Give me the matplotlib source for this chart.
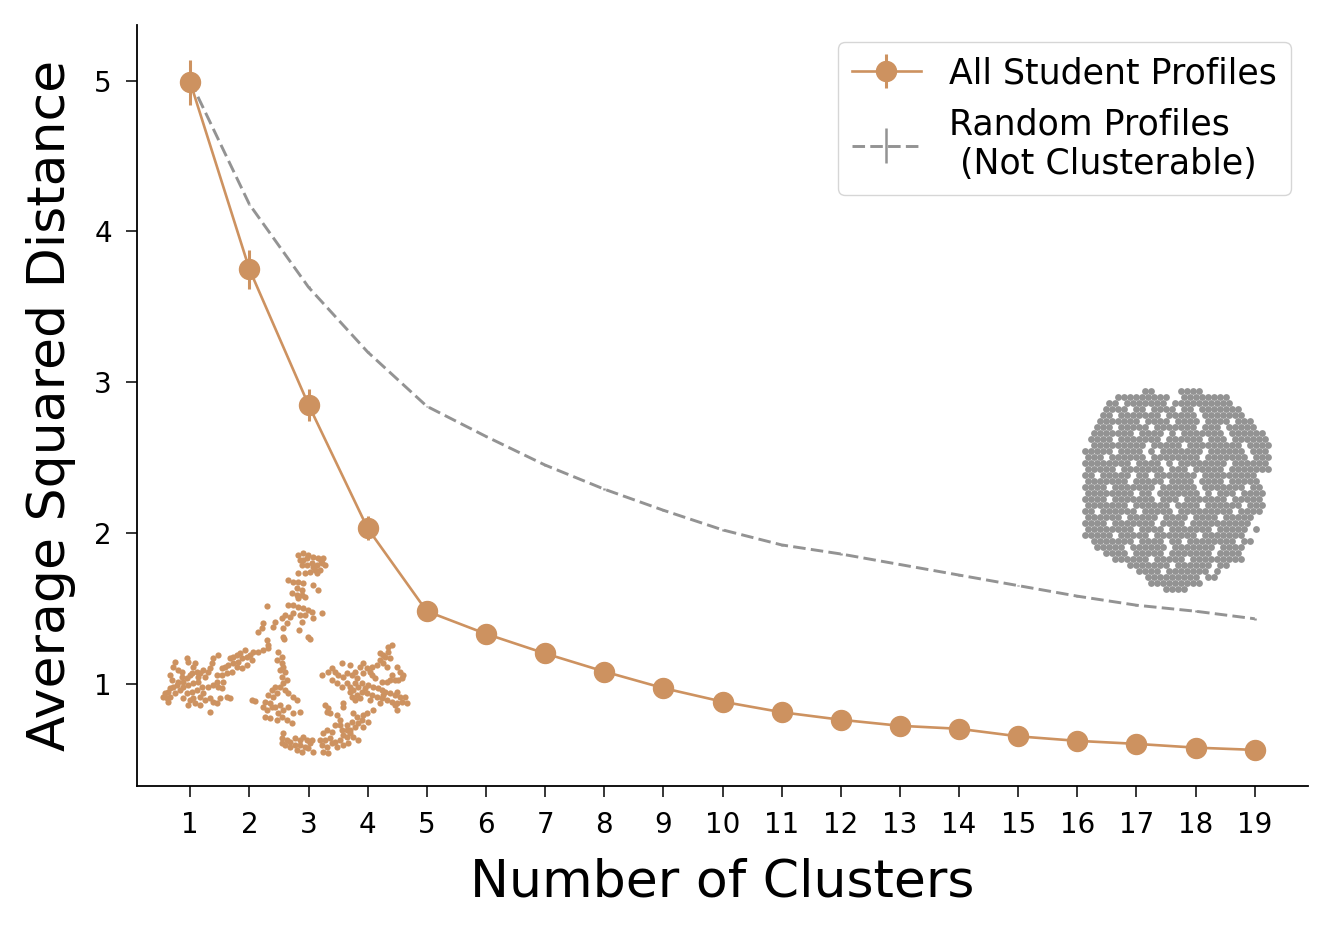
import numpy as np
import matplotlib
matplotlib.use("Agg")
import matplotlib.pyplot as plt

# ---------------- data ----------------
clusters = list(range(1, 20))
student_mean = [4.99, 3.75, 2.85, 2.03, 1.48, 1.33, 1.20, 1.08, 0.97, 0.88,
                0.81, 0.76, 0.72, 0.70, 0.65, 0.62, 0.60, 0.575, 0.56]
student_err = [0.15, 0.13, 0.105, 0.08, 0.05, 0.04, 0.03, 0.03, 0.02, 0.02,
               0.02, 0.02, 0.02, 0.02, 0.015, 0.015, 0.01, 0.01, 0.01]
random_mean = [5.00, 4.18, 3.63, 3.20, 2.84, 2.64, 2.45, 2.29, 2.15, 2.02,
               1.92, 1.86, 1.79, 1.72, 1.65, 1.58, 1.52, 1.48, 1.43]
random_err = [0.005] * 19

xlabel = "Number of Clusters"
ylabel = "Average Squared Distance"
label_student = "All Student Profiles"
label_random = "Random Profiles\n (Not Clusterable)"
yticks = [1, 2, 3, 4, 5]

# inset illustration: 2-D embedding of the student profiles
student_cloud = [
    (445,45),(460,40),(475,45),(450,60),(470,55),(490,50),(505,55),(520,55),(515,70),(500,75),
    (525,75),(485,70),(470,75),(455,75),(495,90),(510,90),(480,95),(465,100),(445,100),(500,100),
    (490,80),(460,60),(512,62),
    (415,120),(430,125),(445,125),(460,130),(490,135),(505,150),(440,145),(455,150),(425,160),
    (440,165),(455,165),(465,170),(445,175),(415,195),(430,195),(445,200),(460,205),(475,210),
    (485,215),(490,235),(465,225),(450,225),(430,220),(420,230),(405,225),(395,235),(410,250),
    (400,265),(455,245),(448,270),(350,197),(517,220),(475,290),(480,298),(400,290),(403,298),
    (375,245),(370,260),(340,250),(335,265),(325,275),(350,300),(355,315),
    (355,325),(340,330),(325,335),(310,335),(300,345),(285,330),(270,340),(260,345),(250,350),
    (240,355),(275,355),(265,365),(250,370),(235,375),(225,380),(215,385),(290,350),(305,360),
    (290,375),(275,385),(260,380),(245,395),(230,400),(215,405),(200,405),(190,355),(205,345),
    (185,370),(180,385),(175,395),(160,390),(150,400),(140,395),(135,370),(110,355),(115,365),
    (75,365),(70,380),(60,405),(120,405),(110,415),(95,410),(100,425),(85,425),(80,435),(70,440),
    (60,445),(55,455),(45,460),(40,470),(50,475),(60,470),(75,460),(90,450),(100,440),(115,435),
    (130,430),(145,425),(155,440),(140,450),(125,455),(110,460),(100,475),(120,480),(135,490),
    (150,495),(165,480),(180,475),(190,485),(200,490),(180,515),(175,440),(190,435),(205,440),
    (215,445),(230,470),(240,475),(210,475),(160,460),(125,400),(145,410),(165,410),(85,390),
    (95,395),(65,420),(130,380),(55,485),(115,495),(130,475),(150,470),(200,425),(220,425),
    (385,335),(395,350),(380,360),(395,370),(400,380),(390,390),(405,395),(395,410),(410,420),
    (400,430),(390,440),(405,450),(375,440),(365,450),(380,460),(355,465),(370,470),(415,460),
    (430,470),(440,480),(345,485),(360,490),(375,500),(390,495),(400,510),(415,500),(385,520),
    (395,530),(410,540),(425,548),(350,510),(345,530),(360,535),(380,540),(430,520),(450,515),
    (305,480),(315,482),(365,500),(340,500),
    (400,580),(395,595),(410,600),(420,605),(435,595),(450,600),(460,590),(470,600),(480,610),
    (465,620),(450,615),(435,615),(420,620),(405,615),(440,630),(455,635),(475,625),(490,635),
    (485,600),(395,610),
    (520,580),(530,570),(545,575),(510,600),(525,600),(540,595),(515,615),(530,620),(545,610),
    (555,605),(570,600),(580,585),(590,590),(575,570),(590,570),(600,580),(610,590),(625,600),
    (520,635),(535,640),(560,620),(580,615),(595,610),(525,495),(535,505),(530,515),(540,520),
    (560,525),(570,540),(580,500),(590,555),(605,545),(615,560),(625,550),(610,520),(620,530),
    (635,540),(640,525),(650,520),(670,510),(655,545),(640,560),(600,570),(570,555),(555,555),
    (515,405),(535,395),(545,385),(555,395),(565,405),(575,370),(580,410),(590,400),(600,375),
    (605,405),(615,395),(620,415),(630,380),(640,370),(650,385),(660,395),(665,405),(680,375),
    (690,360),(700,370),(705,350),(715,335),(725,315),(715,320),(690,340),(700,345),(720,355),
    (710,380),(740,380),(750,395),(760,405),(755,415),(745,420),(725,405),(720,420),(735,420),
    (590,430),(600,440),(610,450),(625,440),(635,430),(645,445),(655,435),(670,440),(685,445),
    (695,450),(705,455),(720,460),(735,465),(750,470),(765,470),(770,490),(755,485),(740,490),
    (725,485),(710,480),(695,475),(680,470),(665,465),(650,460),(635,455),(620,465),(605,470),
    (615,480),(630,475),(660,480),(690,490),(740,510),(735,495),(700,465),(740,455),(615,430),
    (580,490),(545,420),(560,430),(575,440),(640,400),(600,455),(665,380),(675,415),(695,425),
    (710,425),
]

# inset illustration: random profiles embedding, as an occupancy bitmap
random_cloud_rows = [
    "..........##....####............",
    ".....#########..########........",
    "....##.#######.##########.......",
    "...####.##.####.##.#######......",
    "...##.#######.#####.#######.....",
    "..#######.####.####.####.###....",
    "..###.#####.#######.###.#####...",
    ".#######.####.#.#######.######..",
    ".####.#######.######.###.######.",
    ".#########.#####.#########.####.",
    "#####.####.#.#######.######.###.",
    "###.######.########.#######.###.",
    "########.####.#.########.######.",
    "#####.#######.###.#####.#######.",
    "##.#####.##.#######.#########...",
    "#######.#####.####.####.#####...",
    "####.#######.######.#######.##..",
    "########.##.#######.#.###.####..",
    "####.#######.###.#######.#####..",
    "#######.######.####.######.###..",
    "##.######.#####.#########.####..",
    "######.#####.####.####.#####....",
    "####.#######.####.##########....",
    "########.####.#######.#####.#...",
    "#####.#####.#######.#######.....",
    ".#######.####.##.########.##....",
    "..#####.######.#######.####.....",
    "...####.#####.#######.####......",
    ".....######.#####.#########.....",
    ".......#######.######.##........",
    ".........####.#######.#.........",
    "..........#########.##..........",
    "...........#########............",
    ".............####...............",
]

# ---------------- style ----------------
orange = "#CD9260"
gray = "#939393"

W, H, DPI = 1334, 935, 100
fig = plt.figure(figsize=(W / DPI, H / DPI), dpi=DPI)
ax = fig.add_axes([137 / W, 1 - 786 / H, (1308 - 137) / W, (786 - 25) / H])

ax.errorbar(clusters, random_mean, yerr=random_err, color=gray, lw=2.1,
            linestyle=(0, (4.3, 1.8)), elinewidth=1.8, label=label_random, zorder=2)
ax.errorbar(clusters, student_mean, yerr=student_err, color=orange, lw=1.9,
            marker="o", markersize=14.4, elinewidth=2.2, label=label_student, zorder=3)

ax.set_xticks(clusters)
ax.set_yticks(yticks)
ax.tick_params(axis="both", labelsize=20, length=8, width=1.1, pad=10)
for s in ("top", "right"):
    ax.spines[s].set_visible(False)
for s in ("left", "bottom"):
    ax.spines[s].set_linewidth(1.3)
ax.set_xlabel(xlabel, fontsize=37.5, labelpad=13)
ax.set_ylabel(ylabel, fontsize=37.5, labelpad=13)

handles, labels = ax.get_legend_handles_labels()
ax.legend(handles[::-1], labels[::-1], loc="upper right", fontsize=25,
          handlelength=2.0, borderaxespad=0.5)

# student inset
ax1 = fig.add_axes([150 / W, 1 - 760 / H, 270 / W, 220 / H])
sx = [p[0] for p in student_cloud]
sy = [p[1] for p in student_cloud]
ax1.scatter(sx, sy, s=20, color=orange, linewidths=0)
ax1.set_xlim(0, 810)
ax1.set_ylim(660, 0)
ax1.axis("off")

# random inset
ax2 = fig.add_axes([1070 / W, 1 - 600 / H, 210 / W, 220 / H])
rx, ry = [], []
for r, row in enumerate(random_cloud_rows):
    for c, ch in enumerate(row):
        if ch == "#":
            rx.append(c + 0.5 * (r % 2))
            ry.append(r)
ax2.scatter(np.array(rx) * 6 + 15.0, np.array(ry) * 6 + 11.3, s=24, color=gray, linewidths=0)
ax2.set_xlim(0, 210)
ax2.set_ylim(220, 0)
ax2.axis("off")

fig.savefig("out.png", dpi=DPI)
